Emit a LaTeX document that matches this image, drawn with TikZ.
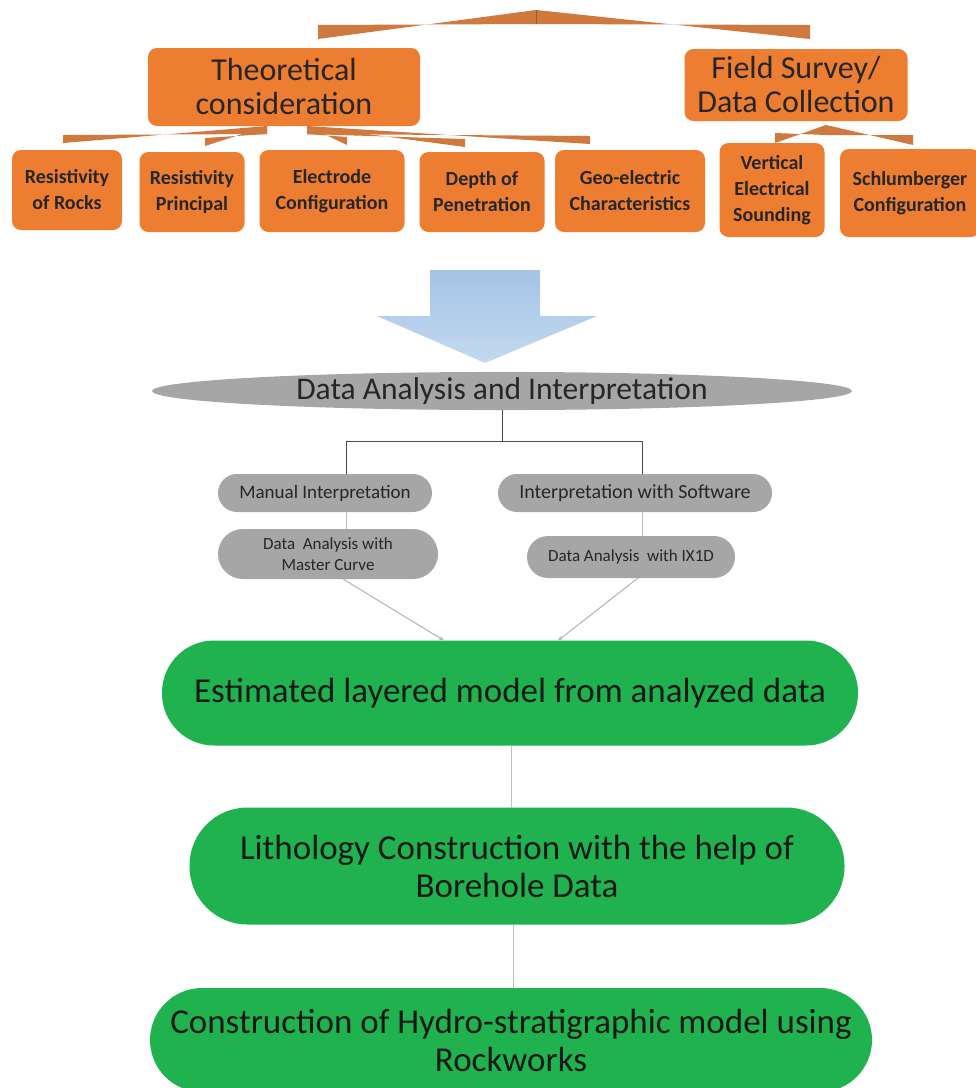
\documentclass[tikz,border=0pt]{standalone}
\usepackage{fontspec}
\setmainfont{Carlito}
\usetikzlibrary{shapes.geometric,arrows.meta,calc}

\definecolor{boxorange}{HTML}{ED7D31}
\definecolor{pillgray}{HTML}{A6A6A6}
\definecolor{modelgreen}{HTML}{1FB24E}
\definecolor{arrowtop}{HTML}{A4C4E6}
\definecolor{arrowbot}{HTML}{C3D9EF}

\begin{document}
\begin{tikzpicture}[x=1pt, y=1pt, yscale=-1, inner sep=0pt, outer sep=0pt,
  obox/.style={fill=boxorange, rounded corners=9pt, align=center, text=black!85},
  bigo/.style={obox, font=\fontsize{32}{34}\selectfont},
  smallo/.style={obox, font=\bfseries\fontsize{20}{26}\selectfont},
  gpill/.style={fill=pillgray, align=center, text=black!85},
  gmodel/.style={fill=modelgreen, align=center, text=black!90,
    font=\fontsize{35}{38}\selectfont},
  link/.style={fill=boxorange!85!black!90},
  thinline/.style={draw=black!70, line width=1pt},
  faint/.style={draw=black!25, line width=1pt},
  fadearrow/.style={draw=black!30, line width=1pt, -{Stealth[length=5pt,width=4pt]}}]
\useasboundingbox (0,0) rectangle (976,1088);

% top level
\node[bigo, minimum width=272pt, minimum height=78pt] (theo) at (284,87) {Theoretical\\consideration};
\node[bigo, minimum width=223pt, minimum height=72pt] (field) at (796,85) {Field Survey/\\Data Collection};

\node[smallo, minimum width=110pt, minimum height=80pt] (rocks) at (67,190) {Resistivity\\of Rocks};
\node[smallo, minimum width=105pt, minimum height=80pt] (princ) at (192,192) {Resistivity\\Principal};
\node[smallo, minimum width=145pt, minimum height=82pt] (elec) at (332,191) {Electrode\\Configuration};
\node[smallo, minimum width=125pt, minimum height=80pt] (depth) at (482,192) {Depth of\\Penetration};
\node[smallo, minimum width=150pt, minimum height=82pt] (geo) at (630,191) {Geo-electric\\Characteristics};
\node[smallo, minimum width=105pt, minimum height=94pt] (ves) at (772,190) {Vertical\\Electrical\\Sounding};
\node[smallo, minimum width=140pt, minimum height=88pt, anchor=west] (schl) at (840,193) {Schlumberger\\Configuration};

% bracket connectors
\coordinate (apex) at (536,17);
\coordinate (theoL) at (267,130);
\coordinate (theoR) at (307,130);
\coordinate (fieldap) at (826,130);
\foreach \a/\b/\h in {apex/{318,32}/7, apex/{810,32}/7,
    theoL/{63,139}/4, theoL/{205,142}/4, theoR/{347,141}/4,
    theoR/{465,143}/4, theoR/{590,140}/4,
    fieldap/{775,138}/5, fieldap/{913,140}/5}
  \fill[link] ($(\a)+(0,-\h)$) -- ($(\b)+(0,\h)$) -- ($(\b)+(0,-\h)$) -- ($(\a)+(0,\h)$) -- cycle;
\draw[boxorange!70!black, line width=0.8pt] (apex)+(0,-7) -- ++(0,7);

% big arrow
\shade[top color=arrowtop, bottom color=arrowbot]
  (430,270) -- (540,270) -- (540,316) -- (597,316) -- (485,363) -- (377,316) -- (430,316) -- cycle;

% analysis
\node[gpill, ellipse, minimum width=700pt, minimum height=34pt,
  font=\fontsize{31.5}{33}\selectfont] (dai) at (502,391) {Data Analysis and Interpretation};
\node[gpill, rounded corners=19pt, minimum width=214pt, minimum height=38pt,
  font=\fontsize{19}{22}\selectfont] (manual) at (325,493) {Manual Interpretation};
\node[gpill, rounded corners=19pt, minimum width=274pt, minimum height=38pt,
  font=\fontsize{20}{22}\selectfont] (soft) at (635,493) {Interpretation with Software};
\node[gpill, rounded corners=25pt, minimum width=220pt, minimum height=50pt,
  font=\fontsize{17}{21}\selectfont] (master) at (328,554) {Data~ Analysis with\\Master Curve};
\node[gpill, rounded corners=21pt, minimum width=208pt, minimum height=42pt,
  font=\fontsize{17}{21}\selectfont] (ixd) at (631,557) {Data Analysis~ with IX1D};

\coordinate (split) at (502,441);
\draw[thinline] (dai.south) -- (split);
\draw[thinline] (346,441) -- (642,441);
\draw[thinline] (346,441) -- (346,474);
\draw[thinline] (642,441) -- (642,474);
\draw[faint] (manual.south -| 346,0) -- (master.north -| 346,0);
\draw[faint] (soft.south -| 642,0) -- (ixd.north -| 642,0);

% models
\node[gmodel, rounded corners=52pt, minimum width=696pt, minimum height=105pt] (est) at (510,693) {Estimated layered model from analyzed data};
\node[gmodel, rounded corners=58pt, minimum width=655pt, minimum height=117pt] (lith) at (517,866) {Lithology Construction with the help of\\Borehole Data};
\node[gmodel, rounded corners=52pt, minimum width=722pt, minimum height=104pt] (hydro) at (511,1040) {Construction of Hydro-stratigraphic model using\\Rockworks};

\draw[fadearrow] (master.south -| 343,0) -- (est.north -| 444,0);
\draw[fadearrow] (ixd.south -| 638,0) -- (est.north -| 558,0);
\draw[faint] (est.south -| 511,0) -- (lith.north -| 511,0);
\draw[faint] (lith.south -| 513,0) -- (hydro.north -| 513,0);

\end{tikzpicture}
\end{document}
